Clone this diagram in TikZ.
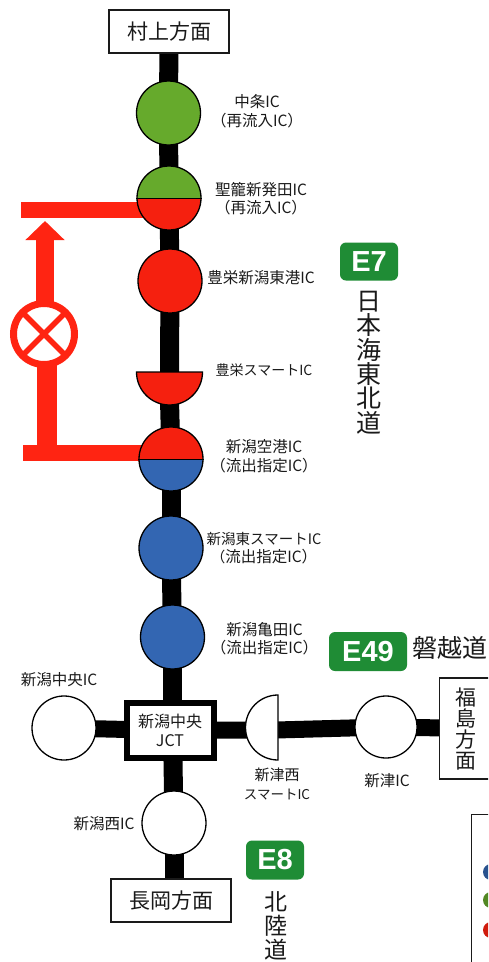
\documentclass[tikz,border=0pt]{standalone}
\usepackage{fontspec}
\setmainfont{Noto Sans CJK JP}
\newfontfamily\badgefont{Liberation Sans}[BoldFont={Liberation Sans Bold}]
\usetikzlibrary{backgrounds,arrows.meta}
\definecolor{icgreen}{HTML}{66AA2C}
\definecolor{icred}{HTML}{F5200F}
\definecolor{icblue}{HTML}{3366B2}
\definecolor{badgegreen}{HTML}{1F8C35}
\definecolor{roadred}{HTML}{FF2412}
\definecolor{ink}{HTML}{1A1A1A}
\tikzset{
  ic/.style={circle,draw=black,line width=1.3pt,minimum size=64pt,inner sep=0pt},
  icw/.style={ic,fill=white},
  twotone/.style 2 args={ic,path picture={
    \fill[#1] (path picture bounding box.north west) rectangle (path picture bounding box.east);
    \fill[#2] (path picture bounding box.west) rectangle (path picture bounding box.south east);}},
  road/.style={line width=19pt,draw=black},
  redroad/.style={line width=16pt,draw=roadred},
  dest/.style={draw=ink,line width=1.2pt,fill=white,inner sep=0pt,text=ink,font=\fontsize{21}{24}\selectfont},
  lab/.style={align=center,inner sep=0pt,text=ink,font=\fontsize{15.5}{18.5}\selectfont},
  labs/.style={align=center,inner sep=0pt,text=ink,font=\fontsize{14}{18.5}\selectfont},
  badge/.style={fill=badgegreen,rounded corners=6pt,text=white,inner sep=0pt,font=\badgefont\bfseries\fontsize{29}{30}\selectfont},
  vtext/.style={align=center,inner sep=0pt,text=ink,font=\fontsize{25}{24.3}\selectfont},
  halfc/.style={draw=black,line width=1.3pt},
}
\begin{document}
\begin{tikzpicture}[x=1pt,y=-1pt]
\useasboundingbox (0,0) rectangle (488,962);
% destinations
\node[dest,minimum width=120pt,minimum height=43pt] (murakami) at (169,31.5) {村上方面};
\node[dest,minimum width=120pt,minimum height=43pt] (nagaoka) at (171,900.5) {長岡方面};
\begin{scope}
\clip (0,0) rectangle (488,962);
\node[dest,minimum width=70pt,minimum height=101pt,anchor=west] (fukushima) at (439,728.5) {};
\end{scope}
\node[vtext,font=\fontsize{21}{21}\selectfont] (fukutext) at (466,729) {福\\島\\方\\面};
% interchanges
\node[ic,fill=icgreen] (nakajo) at (168.5,113) {};
\node[twotone={icgreen}{icred}] (seiro) at (169,198) {};
\draw[black,line width=1pt] (seiro.west) -- (seiro.east);
\node[ic,fill=icred] (toko) at (170,281) {};
\coordinate (smarttop) at (169.5,372);
\filldraw[halfc,fill=icred] (136.5,372) arc[start angle=180,end angle=360,radius=33pt] -- cycle;
\coordinate (smartbot) at (169.5,400);
\node[twotone={icred}{icblue}] (kuko) at (171,459) {};
\draw[black,line width=1pt] (kuko.west) -- (kuko.east);
\node[ic,fill=icblue] (higashi) at (171,548) {};
\node[ic,fill=icblue] (kameda) at (172.5,637) {};
\node[draw=black,line width=6pt,fill=white,minimum width=87pt,minimum height=55pt,inner sep=0pt,align=center,text=ink,font=\fontsize{16}{19}\selectfont] (jct) at (170,730.5) {新潟中央\\JCT};
\node[icw] (chuo) at (64,728) {};
\node[icw] (nishi) at (174,823) {};
\node[icw,minimum size=62pt] (niitsu) at (386,727) {};
\filldraw[halfc,fill=white] (278,695) arc[start angle=90,end angle=270,radius=32.5pt] -- cycle;
\coordinate (nwtop) at (250,730);
\coordinate (nwbot) at (276,730);
% labels
\node[lab] (l1) at (257,111) {中条IC\\（再流入IC）};
\node[lab] (l2) at (261,198.5) {聖籠新発田IC\\（再流入IC）};
\node[lab] (l3) at (261,278) {豊栄新潟東港IC};
\node[labs] (l4) at (264,370) {豊栄スマートIC};
\node[lab] (l5) at (264,456) {新潟空港IC\\（流出指定IC）};
\node[lab,font=\fontsize{14.5}{18.5}\selectfont] (l6) at (264,548) {新潟東スマートIC\\（\fontsize{15.5}{18.5}\selectfont 流出指定IC）};
\node[lab] (l7) at (264.5,638.5) {新潟亀田IC\\（流出指定IC）};
\node[lab] (l8) at (59,680) {新潟中央IC};
\node[labs,font=\fontsize{13.5}{18.5}\selectfont] (l9) at (277,784) {\fontsize{15}{18.5}\selectfont 新津西\\スマートIC};
\node[lab] (l10) at (387,781) {新津IC};
\node[lab] (l11) at (104,824) {新潟西IC};
% route badges
\node[badge,minimum width=58pt,minimum height=38pt] (e7) at (369,261.5) {E7};
\node[badge,minimum width=78pt,minimum height=39pt] (e49) at (368,651.5) {E49};
\node[badge,minimum width=58pt,minimum height=39pt] (e8) at (275,860) {E8};
\node[vtext] (t7) at (369,362.5) {日\\本\\海\\東\\北\\道};
\node[inner sep=0pt,text=ink,font=\fontsize{25}{25}\selectfont] (t49) at (450,648) {磐越道};
\node[vtext,font=\fontsize{23}{24}\selectfont] (t8) at (276,926) {北\\陸\\道};
% closed section marker
\node[circle,draw=roadred,line width=7pt,fill=white,minimum size=61pt,inner sep=0pt] (closed) at (44,334) {};
\draw[roadred,line width=5.5pt,shorten >=4pt,shorten <=4pt] (closed.45) -- (closed.225);
\draw[roadred,line width=5.5pt,shorten >=4pt,shorten <=4pt] (closed.135) -- (closed.315);
\coordinate (redtop) at (21,210);
\coordinate (redlow) at (23,453);
\coordinate (arrowtip) at (45,221);
\coordinate (corner) at (47,453);
% legend fragment
\begin{scope}
\clip (0,0) rectangle (488,962);
\node[draw=ink,line width=1.2pt,fill=white,minimum width=60pt,minimum height=200pt,anchor=north west,inner sep=0pt] (legend) at (471,814) {};
\node[circle,fill=icblue!80!black,minimum size=16pt,inner sep=0pt] (legb) at (491,872) {};
\node[circle,fill=icgreen!80!black,minimum size=16pt,inner sep=0pt] (legg) at (491,900) {};
\node[circle,fill=icred!85!black,minimum size=16pt,inner sep=0pt] (legr) at (491,930) {};
\end{scope}
\begin{scope}[on background layer]
\fill[white] (0,0) rectangle (488,962);
\draw[road] (murakami.center) -- (nakajo.center);
\draw[road] (nakajo.center) -- (seiro.center);
\draw[road] (seiro.center) -- (toko.center);
\draw[road] (toko.center) -- (smarttop);
\draw[road] (smartbot) -- (kuko.center);
\draw[road] (kuko.center) -- (higashi.center);
\draw[road] (higashi.center) -- (kameda.center);
\draw[road] (kameda.center) -- (jct.center -| kameda.center);
\draw[road] (jct.center -| kameda.center) -- (nishi.center);
\draw[road] (nishi.center) -- (nagaoka.center -| nishi.center);
\draw[road,line width=17pt] (chuo.center) -- (jct.center);
\draw[road,line width=17pt] (jct.center) -- (nwtop);
\draw[road,line width=17pt] (nwbot) -- (niitsu.center);
\draw[road,line width=17pt] (niitsu.center) -- (fukushima.center);
\draw[redroad] (redtop) -- (redtop -| seiro.center);
\draw[redroad] (redlow) -- (redlow -| kuko.center);
\draw[draw=roadred,line width=18pt,-{Triangle[width=38pt,length=19pt]}] (closed.center -| arrowtip) -- (arrowtip);
\draw[draw=roadred,line width=20pt] (closed.center -| corner) -- (corner);
\end{scope}
\end{tikzpicture}
\end{document}
